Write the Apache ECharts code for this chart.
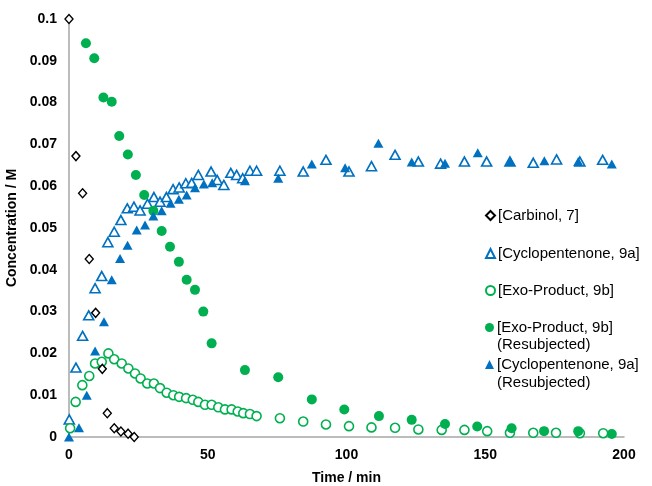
<!DOCTYPE html>
<html><head><meta charset="utf-8">
<script src="https://cdn.jsdelivr.net/npm/echarts@6/dist/echarts.min.js"></script>
<style>html,body{margin:0;padding:0;background:#fff}#c{width:652px;height:486px}</style>
</head><body><div id="c"></div>
<script>
// [time (min), concentration (M)]
var carbinol = [[0,0.1],[2.5,0.0672],[4.9,0.0583],[7.3,0.0426],[9.6,0.0297],[12,0.0163],[13.8,0.0057],[16.3,0.0021],[18.7,0.0013],[21.3,0.0008],[23.5,0.0]];
var cyclo = [[0.1,0.0042],[2.5,0.0166],[4.9,0.0242],[7.1,0.0291],[9.4,0.0356],[11.8,0.0385],[14.0,0.0466],[16.3,0.0491],[18.7,0.0519],[21.0,0.0547],[23.4,0.0551],[25.6,0.0542],[28.3,0.0558],[30.6,0.0574],[32.8,0.0563],[35.1,0.0574],[37.5,0.0593],[39.7,0.0597],[42.1,0.0607],[44.2,0.0608],[46.6,0.0627],[51.2,0.0635],[53.4,0.0615],[55.8,0.0603],[58.3,0.0632],[60.4,0.0627],[62.6,0.0619],[65.2,0.0637],[67.6,0.0637],[76,0.0637],[84.4,0.0635],[92.6,0.0663],[100.9,0.0635],[109,0.0648],[117.5,0.0675],[125.9,0.0659],[133.9,0.0654],[142.5,0.0659],[150.5,0.0659],[158.9,0.0659],[167.3,0.0656],[175.7,0.0664],[184.1,0.0659],[192.3,0.0663]];
var exo = [[0.4,0.0021],[2.4,0.0084],[4.8,0.0124],[7.3,0.0146],[9.4,0.0176],[11.8,0.018],[14.2,0.02],[16.3,0.0186],[19,0.0176],[21.4,0.0164],[23.8,0.0152],[25.8,0.014],[28.2,0.0128],[30.6,0.0128],[32.8,0.0117],[35.2,0.0106],[37.6,0.01],[39.7,0.0096],[42.2,0.0093],[44.6,0.0089],[46.6,0.0084],[49,0.0077],[51.4,0.0077],[53.8,0.0071],[56.2,0.0066],[58.6,0.0066],[60.8,0.0061],[62.8,0.0057],[65.2,0.0055],[67.6,0.005],[76,0.0045],[84.4,0.0037],[92.6,0.003],[100.9,0.0026],[109,0.0023],[117.5,0.0022],[125.9,0.0018],[134.3,0.0017],[142.5,0.0017],[150.7,0.0014],[158.9,0.001],[167.3,0.001],[175.5,0.001],[184.1,0.0009],[192.5,0.0009]];
var exoResub = [[6.1,0.0942],[9.1,0.0906],[12.4,0.0812],[15.4,0.0802],[18.1,0.072],[21.2,0.0676],[24.1,0.0627],[27.1,0.0579],[30.4,0.0541],[33.4,0.0493],[36.4,0.0455],[39.6,0.0419],[42.4,0.0376],[45.4,0.0352],[48.4,0.0300],[51.4,0.0224],[63.4,0.016],[75.4,0.0143],[87.5,0.009],[99.2,0.0066],[111.7,0.005],[123.5,0.0041],[135.5,0.0031],[147.1,0.0025],[159.5,0.0021],[171.2,0.0014],[183.5,0.0014],[195.6,0.0007]];
var cycloResub = [[0,0],[3.6,0.0022],[6.4,0.01],[9.4,0.0206],[12.6,0.0276],[15.4,0.0376],[18.4,0.0427],[21.1,0.0459],[24.4,0.0495],[27.4,0.0507],[30.4,0.0529],[33.4,0.0541],[36.6,0.0559],[39.6,0.0569],[42.4,0.0579],[45.4,0.0596],[48.6,0.0605],[51.6,0.0608],[63.4,0.0613],[75.4,0.0619],[87.5,0.0653],[99.5,0.0644],[111.5,0.0703],[123.5,0.0658],[135.5,0.0655],[147.3,0.068],[159.1,0.0659],[171.3,0.0661],[183.5,0.0659],[195.6,0.0653]];
var names = ['[Carbinol, 7]','[Cyclopentenone, 9a]','[Exo-Product, 9b]','[Exo-Product, 9b] (Resubjected)','[Cyclopentenone, 9a] (Resubjected)'];
var legendTops = [208, 246, 283, 320, 357];
var xTicks = [0, 50, 100, 150, 200];

var BLUE = '#0070C0', GREEN = '#00B050';
var chart = echarts.init(document.getElementById('c'), null, {renderer:'canvas'});
var font = 'Liberation Sans, Arial, sans-serif';
function legendFor(i){
  return {
    orient:'vertical', left:485, top:legendTops[i], padding:0, itemWidth:9, itemHeight:9, itemGap:0,
    data:[names[i]], selectedMode:false,
    formatter:function(n){ return n.replace(' (Resubjected)',''); },
    textStyle:{fontFamily:font, fontSize:15, color:'#000', padding:[0,0,0,-2]}
  };
}
chart.setOption({
  animation:false,
  backgroundColor:'#fff',
  grid:{left:69, right:28, top:19, bottom:49, containLabel:false, outerBoundsMode:'none'},
  legend:[0,1,2,3,4].map(legendFor),
  xAxis:{
    type:'value', min:0, max:200, interval:50,
    name:'Time / min', nameLocation:'middle', nameGap:34,
    nameTextStyle:{fontFamily:font, fontWeight:'bold', fontSize:14, color:'#000'},
    axisLine:{show:true, onZero:false, lineStyle:{color:'#a6a6a6', width:1.5}},
    axisTick:{show:false}, splitLine:{show:false},
    axisLabel:{fontFamily:font, fontWeight:'bold', fontSize:14, color:'#000', margin:11,
      formatter:function(v){ return xTicks.indexOf(v)>=0 ? String(v) : ''; }}
  },
  yAxis:{
    type:'value', min:0, max:0.1, interval:0.01,
    name:'Concentration / M', nameLocation:'middle', nameGap:45,
    nameTextStyle:{fontFamily:font, fontWeight:'bold', fontSize:14, color:'#000'},
    axisLine:{show:true, lineStyle:{color:'#a6a6a6', width:1.5}},
    axisTick:{show:false}, splitLine:{show:false},
    axisLabel:{fontFamily:font, fontWeight:'bold', fontSize:14, color:'#000', margin:12,
      formatter:function(v){ return v===0 ? '0' : String(Math.round(v*100)/100); }}
  },
  graphic:[
    {type:'text', left:497, top:337, style:{text:'(Resubjected)', font:'15px Liberation Sans, Arial, sans-serif', fill:'#000'}},
    {type:'text', left:497, top:375, style:{text:'(Resubjected)', font:'15px Liberation Sans, Arial, sans-serif', fill:'#000'}}
  ],
  series:[
    {name:names[0], type:'scatter', data:carbinol, symbol:'diamond', symbolSize:[8,9],
      itemStyle:{color:'#fff', borderColor:'#000', borderWidth:1.4, opacity:1}, z:3},
    {name:names[1], type:'scatter', data:cyclo, symbol:'triangle', symbolSize:[10,9],
      itemStyle:{color:'#fff', borderColor:BLUE, borderWidth:1.6, opacity:1}, z:2},
    {name:names[2], type:'scatter', data:exo, symbol:'circle', symbolSize:9,
      itemStyle:{color:'#fff', borderColor:GREEN, borderWidth:1.6, opacity:1}, z:2},
    {name:names[3], type:'scatter', data:exoResub, symbol:'circle', symbolSize:10,
      itemStyle:{color:GREEN, opacity:1}, z:2},
    {name:names[4], type:'scatter', data:cycloResub, symbol:'triangle', symbolSize:[10,9],
      itemStyle:{color:BLUE, opacity:1}, z:2}
  ]
});
</script></body></html>
